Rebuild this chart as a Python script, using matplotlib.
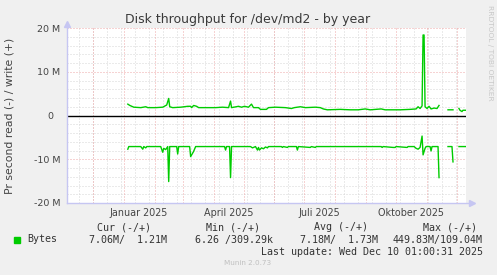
import numpy as np
import pandas as pd
import matplotlib
matplotlib.use("Agg")
import matplotlib.pyplot as plt
from matplotlib.patches import Rectangle

# write (+) in MB/s, None = no data
write_dates = ["2025-01-05", "2025-01-07", "2025-01-11", "2025-01-18", "2025-01-23", "2025-01-25",
               "2025-02-02", "2025-02-09", "2025-02-13", "2025-02-15", "2025-02-16", "2025-02-19",
               "2025-02-27", "2025-03-06", "2025-03-09", "2025-03-10", "2025-03-12", "2025-03-15",
               "2025-03-17", "2025-03-24", "2025-04-03", "2025-04-10", "2025-04-16", "2025-04-18",
               "2025-04-19", "2025-04-26", "2025-04-29", "2025-05-02", "2025-05-06", "2025-05-09",
               "2025-05-11", "2025-05-16", "2025-05-18", "2025-05-24", "2025-05-26", "2025-06-02",
               "2025-06-12", "2025-06-18", "2025-06-21", "2025-06-27", "2025-07-02", "2025-07-12",
               "2025-07-17", "2025-07-20", "2025-07-22", "2025-07-24", "2025-08-06", "2025-08-16",
               "2025-08-24", "2025-08-31", "2025-09-05", "2025-09-16", "2025-09-20", "2025-10-05",
               "2025-10-15", "2025-10-21", "2025-10-23", "2025-10-25", "2025-10-27", "2025-10-28",
               "2025-10-29", "2025-10-30", "2025-11-01", "2025-11-03", "2025-11-05", "2025-11-08",
               "2025-11-11", "2025-11-13", "2025-11-14", "2025-11-22", "2025-11-27", "2025-11-28",
               "2025-12-03", "2025-12-04", "2025-12-06", "2025-12-07", "2025-12-10"]
write_vals = [2.6, 2.3, 1.9, 1.8, 2.0, 1.8,
              1.8, 1.9, 2.4, 3.9, 2.0, 1.8,
              1.9, 2.1, 2.1, 1.8, 2.3, 2.1,
              1.8, 1.8, 1.8, 1.9, 1.8, 3.3,
              1.8, 2.1, 1.9, 2.1, 1.9, 2.6,
              1.8, 1.8, 1.4, 1.4, 1.8, 1.9,
              1.8, 1.6, 1.8, 2.0, 1.8, 1.9,
              1.8, 1.5, 1.4, 1.3, 1.4, 1.3,
              1.3, 1.5, 1.3, 1.5, 1.3, 1.3,
              1.4, 1.5, 2.0, 1.6, 2.2, 18.4,
              18.4, 2.0, 1.6, 2.1, 1.5, 1.7,
              1.6, 2.3, None, 1.3, 1.3, None,
              1.6, 1.2, 0.9, 1.2, 1.2]

# read (-) in MB/s, None = no data
read_dates = ["2025-01-05", "2025-01-06", "2025-01-18", "2025-01-20", "2025-01-21", "2025-01-23",
              "2025-01-24", "2025-02-07", "2025-02-09", "2025-02-10", "2025-02-12", "2025-02-14",
              "2025-02-15", "2025-02-16", "2025-02-23", "2025-02-24", "2025-02-25", "2025-03-08",
              "2025-03-09", "2025-03-12", "2025-03-14", "2025-04-12", "2025-04-13", "2025-04-14",
              "2025-04-17", "2025-04-18", "2025-04-19", "2025-05-08", "2025-05-10", "2025-05-13",
              "2025-05-15", "2025-05-16", "2025-05-17", "2025-05-19", "2025-05-21", "2025-05-23",
              "2025-05-25", "2025-05-26", "2025-06-08", "2025-06-09", "2025-06-10", "2025-06-14",
              "2025-06-15", "2025-06-23", "2025-06-24", "2025-06-25", "2025-07-07", "2025-07-08",
              "2025-07-12", "2025-07-13", "2025-09-16", "2025-09-17", "2025-09-18", "2025-09-28",
              "2025-09-30", "2025-10-01", "2025-10-12", "2025-10-13", "2025-10-19", "2025-10-21",
              "2025-10-23", "2025-10-25", "2025-10-27", "2025-10-28", "2025-10-30", "2025-10-31",
              "2025-11-04", "2025-11-05", "2025-11-06", "2025-11-12", "2025-11-13", "2025-11-14",
              "2025-11-22", "2025-11-26", "2025-11-27", "2025-11-28", "2025-12-03", "2025-12-10"]
read_vals = [7.7, 7.1, 7.1, 7.7, 7.1, 7.4,
             7.1, 7.1, 8.4, 7.5, 7.8, 7.1,
             15.1, 7.1, 7.1, 8.8, 7.1, 7.1,
             9.4, 8.2, 7.1, 7.1, 7.9, 7.1,
             7.1, 14.2, 7.1, 7.1, 7.4, 7.1,
             7.9, 7.3, 7.9, 7.4, 7.6, 7.2,
             7.4, 7.1, 7.1, 7.3, 7.1, 7.3,
             7.1, 7.1, 7.9, 7.1, 7.3, 7.1,
             7.3, 7.1, 7.1, 7.3, 7.1, 7.3,
             7.3, 7.1, 7.3, 7.1, 7.1, 7.5,
             7.7, 7.3, 4.7, 9.0, 7.5, 7.1,
             7.1, 8.1, 7.1, 7.1, 14.2, None,
             7.1, 7.1, 10.6, None, 7.1, 7.1]

y_ticks = [-20, -10, 0, 10, 20]
y_tick_labels = ["-20 M", "-10 M", "0  ", "10 M", "20 M"]
x_label_dates = ["2025-01-16", "2025-04-16", "2025-07-16", "2025-10-16"]
x_labels = ["Januar 2025", "April 2025", "Juli 2025", "Oktober 2025"]

legend_head = ["Cur (-/+)", "Min (-/+)", "Avg (-/+)", "Max (-/+)"]
legend_vals = ["7.06M/  1.21M", "6.26 /309.29k", "7.18M/  1.73M", "449.83M/109.04M"]

W, H = 497, 275
green = "#00CC00"
fig = plt.figure(figsize=(W / 100, H / 100), dpi=100, facecolor="#F0F0F0")
ax = fig.add_axes([67 / W, 1 - 203 / H, 399 / W, 175 / H], facecolor="white")

end = pd.Timestamp("2025-12-10 01:00")
start = end - pd.Timedelta(days=400)
ax.set_xlim(start, end)
ax.set_ylim(-20, 20)

# grid (dotted, rrdtool style)
dot = (0, (1, 2))
minor_c = "#D6D6D6"
major_c = "#EFA8A8"
for d in pd.date_range("2024-11-17", end, freq="14D"):
    ax.axvline(d, color=minor_c, lw=0.72, ls=dot, zorder=1)
for v in range(-18, 20, 2):
    if v % 10:
        ax.axhline(v, color=minor_c, lw=0.72, ls=dot, zorder=1)
for d in pd.date_range("2024-12-01", end, freq="MS"):
    ax.axvline(d, color=major_c, lw=0.72, ls=dot, zorder=2)
for v in y_ticks:
    ax.axhline(v, color=major_c, lw=0.72, ls=dot, zorder=2)
ax.axhline(0, color="black", lw=1.0, zorder=3)

wd = pd.to_datetime(write_dates)
wv = np.array([np.nan if v is None else v for v in write_vals])
rd = pd.to_datetime(read_dates)
rv = np.array([np.nan if v is None else -v for v in read_vals])
ax.plot(wd, wv, color=green, lw=1.0, zorder=4)
ax.plot(rd, rv, color=green, lw=1.0, zorder=4)

for s in ax.spines.values():
    s.set_visible(False)

# axes with arrows
axc = "#C6C6F2"
ax.plot([0, 1.015], [0, 0], transform=ax.transAxes, color=axc, lw=1, clip_on=False, zorder=5)
ax.plot([0, 0], [0, 1.025], transform=ax.transAxes, color=axc, lw=1, clip_on=False, zorder=5)
ax.plot([1.015], [0], transform=ax.transAxes, marker=">", ms=4, color=axc, clip_on=False)
ax.plot([0], [1.025], transform=ax.transAxes, marker="^", ms=4, color=axc, clip_on=False)

ax.set_yticks(y_ticks)
ax.set_yticklabels(y_tick_labels)
ax.set_xticks(pd.to_datetime(x_label_dates))
ax.set_xticklabels(x_labels)
ax.tick_params(axis="y", length=0, pad=5, labelsize=6.8, labelcolor="#444444")
ax.tick_params(axis="x", length=0, pad=3.5, labelsize=6.9, labelcolor="#444444")

def px(x, y):
    return x / W, 1 - y / H

fig.text(*px(248, 20), "Disk throughput for /dev/md2 - by year", ha="center", va="center",
         fontsize=9, color="#3A3A3A")
fig.text(*px(10, 116), "Pr second read (-) / write (+)", rotation=90, ha="center", va="center",
         fontsize=7.8, color="#444444")
fig.text(*px(490, 53), "RRDTOOL / TOBI OETIKER", rotation=270, ha="center", va="center",
         fontsize=5.4, color="#C8C8C8")

mono = dict(family="DejaVu Sans Mono", fontsize=7.2, color="#333333", va="center")
for txt, xr in zip(legend_head, [151, 260, 368, 477]):
    fig.text(*px(xr, 227), txt, ha="right", **mono)
fig.add_artist(Rectangle(px(14, 243), 6 / W, 6 / H, transform=fig.transFigure, color=green))
fig.text(*px(27, 239.5), "Bytes", ha="left", **mono)
for txt, xr in zip(legend_vals, [167, 273, 378, 483]):
    fig.text(*px(xr, 239.5), txt, ha="right", **mono)
fig.text(*px(483, 252), "Last update: Wed Dec 10 01:00:31 2025", ha="right", **mono)
fig.text(*px(248, 263), "Munin 2.0.73", ha="center", va="center", fontsize=5.2, color="#C0C0C0")

fig.savefig("out.png", dpi=100, facecolor=fig.get_facecolor())
